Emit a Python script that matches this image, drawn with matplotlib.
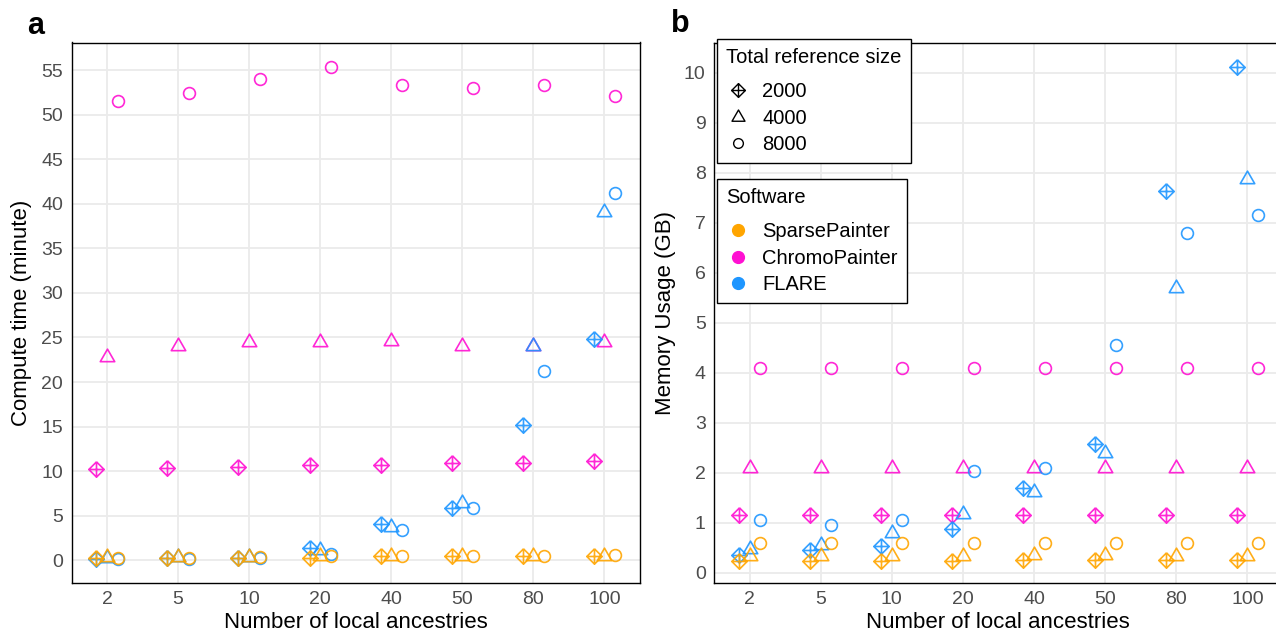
import numpy as np
import matplotlib
matplotlib.use("Agg")
import matplotlib.pyplot as plt
from matplotlib.path import Path
from matplotlib.lines import Line2D

plt.rcParams['font.family'] = ['Liberation Sans', 'DejaVu Sans']

# данные
ancestries = ['2', '5', '10', '20', '40', '50', '80', '100']
ref_sizes = ['2000', '4000', '8000']
software = ['SparsePainter', 'ChromoPainter', 'FLARE']

# время (минуты)
time_sp = {'2000': [0.2, 0.2, 0.2, 0.2, 0.4, 0.4, 0.4, 0.4],
           '4000': [0.3, 0.3, 0.3, 0.4, 0.5, 0.5, 0.5, 0.5],
           '8000': [0.2, 0.2, 0.3, 0.5, 0.5, 0.5, 0.5, 0.6]}
time_cp = {'2000': [10.2, 10.3, 10.4, 10.7, 10.7, 10.9, 10.9, 11.1],
           '4000': [22.8, 24.0, 24.5, 24.5, 24.6, 24.1, 24.1, 24.5],
           '8000': [51.6, 52.5, 54.0, 55.4, 53.4, 53.0, 53.4, 52.1]}
time_fl = {'2000': [0.1, 0.2, 0.2, 1.3, 4.0, 5.8, 15.2, 24.8],
           '4000': [0.2, 0.3, 0.3, 1.1, 3.7, 6.4, 24.1, 39.1],
           '8000': [0.1, 0.1, 0.2, 0.7, 3.4, 5.8, 21.2, 41.2]}

# память (GB)
mem_sp = {'2000': [0.24, 0.24, 0.24, 0.24, 0.25, 0.25, 0.25, 0.25],
          '4000': [0.33, 0.33, 0.33, 0.34, 0.35, 0.35, 0.34, 0.34],
          '8000': [0.59, 0.59, 0.59, 0.59, 0.59, 0.59, 0.59, 0.59]}
mem_cp = {'2000': [1.15, 1.15, 1.15, 1.15, 1.15, 1.15, 1.15, 1.15],
          '4000': [2.1, 2.1, 2.1, 2.1, 2.1, 2.1, 2.1, 2.1],
          '8000': [4.1, 4.1, 4.1, 4.1, 4.1, 4.1, 4.1, 4.1]}
mem_fl = {'2000': [0.36, 0.46, 0.54, 0.88, 1.69, 2.58, 7.64, 10.12],
          '4000': [0.47, 0.56, 0.80, 1.17, 1.62, 2.39, 5.70, 7.88],
          '8000': [1.05, 0.95, 1.06, 2.03, 2.09, 4.56, 6.79, 7.16]}

colors = {'SparsePainter': '#FFA500', 'ChromoPainter': '#FF10D2', 'FLARE': '#1E96FF'}

# маркеры: ромб с крестом, треугольник, круг
diamond_plus = Path([(0, 1), (1, 0), (0, -1), (-1, 0), (0, 1),
                     (-1, 0), (1, 0), (0, -1), (0, 1)],
                    [Path.MOVETO, Path.LINETO, Path.LINETO, Path.LINETO, Path.LINETO,
                     Path.MOVETO, Path.LINETO, Path.MOVETO, Path.LINETO])
h = np.sqrt(3)
triangle = Path([(-1, -h / 3), (1, -h / 3), (0, 2 * h / 3), (-1, -h / 3)],
                [Path.MOVETO, Path.LINETO, Path.LINETO, Path.CLOSEPOLY])
markers = {'2000': (diamond_plus, 11), '4000': (triangle, 12), '8000': ('o', 8.5)}
offsets = {'2000': -0.15, '4000': 0.0, '8000': 0.15}


def draw_panel(ax, data, ylim, yticks):
    x = np.arange(len(ancestries))
    for sw in ['ChromoPainter', 'FLARE', 'SparsePainter']:
        for rs in ref_sizes:
            m, ms = markers[rs]
            ax.plot(x + offsets[rs], data[sw][rs], linestyle='none', marker=m, ms=ms,
                    mfc='none', mec=colors[sw], mew=1.2, alpha=0.9, zorder=3)
    ax.set_xlim(-0.5, 7.5)
    ax.set_ylim(*ylim)
    ax.set_xticks(x)
    ax.set_xticklabels(ancestries)
    ax.set_yticks(yticks)
    ax.grid(True, color='#EBEBEB', lw=1.3, zorder=0)
    ax.set_axisbelow(True)
    ax.tick_params(length=0, labelsize=14, labelcolor='#4D4D4D', pad=6)
    for s in ax.spines.values():
        s.set_color('black')
        s.set_linewidth(1.0)


fig = plt.figure(figsize=(12.76, 6.35), dpi=100)
ax_a = fig.add_axes([71.5 / 1276, 1 - 583 / 635, 568.5 / 1276, 540.5 / 635])
ax_b = fig.add_axes([714 / 1276, 1 - 583 / 635, 569 / 1276, 540.5 / 635])

draw_panel(ax_a, {'SparsePainter': time_sp, 'ChromoPainter': time_cp, 'FLARE': time_fl},
           (-2.58, 58.14), np.arange(0, 56, 5))
draw_panel(ax_b, {'SparsePainter': mem_sp, 'ChromoPainter': mem_cp, 'FLARE': mem_fl},
           (-0.21, 10.6), np.arange(0, 11, 1))
ax_b.spines['right'].set_visible(False)  # в оригинале обрезано

fig.text(22 / 1276, 1 - 313 / 635, 'Compute time (minute)', rotation=90,
         ha='center', va='center', fontsize=16)
fig.text(665 / 1276, 1 - 313 / 635, 'Memory Usage (GB)', rotation=90,
         ha='center', va='center', fontsize=16)
fig.text(356 / 1276, 1 - 622 / 635, 'Number of local ancestries', ha='center', va='center', fontsize=16)
fig.text(998 / 1276, 1 - 622 / 635, 'Number of local ancestries', ha='center', va='center', fontsize=16)
fig.text(36 / 1276, 1 - 26 / 635, 'a', ha='center', va='center', fontsize=22, fontweight='bold')
fig.text(680 / 1276, 1 - 24 / 635, 'b', ha='center', va='center', fontsize=22, fontweight='bold')

# легенды
legend_kw = dict(loc='upper left', bbox_transform=fig.transFigure, borderaxespad=0,
                 fontsize=14.5, title_fontsize=14.5, frameon=True, fancybox=False,
                 framealpha=1, edgecolor='black', labelspacing=0.36, handletextpad=0.6,
                 handlelength=1.2, borderpad=0.45)

size_handles = [Line2D([], [], linestyle='none', marker=markers[rs][0], ms=markers[rs][1] * 0.9,
                       mfc='none', mec='black', mew=1.0) for rs in ref_sizes]
size_handles[2].set_markersize(7)
leg1 = ax_b.legend(size_handles, ref_sizes, title='Total reference size',
                   bbox_to_anchor=(717 / 1276, 1 - 39 / 635), **legend_kw)
leg1._legend_box.align = 'left'
leg1._legend_box.sep = 11
leg1.get_frame().set_linewidth(1.0)
ax_b.add_artist(leg1)

sw_handles = [Line2D([], [], linestyle='none', marker='o', ms=8.5, mfc=colors[sw],
                     mec=colors[sw]) for sw in software]
leg2 = ax_b.legend(sw_handles, software, title='Software',
                   bbox_to_anchor=(717 / 1276, 1 - 179 / 635), **legend_kw)
leg2._legend_box.align = 'left'
leg2._legend_box.sep = 11
leg2.get_frame().set_linewidth(1.0)

fig.savefig('out.png', dpi=100)
